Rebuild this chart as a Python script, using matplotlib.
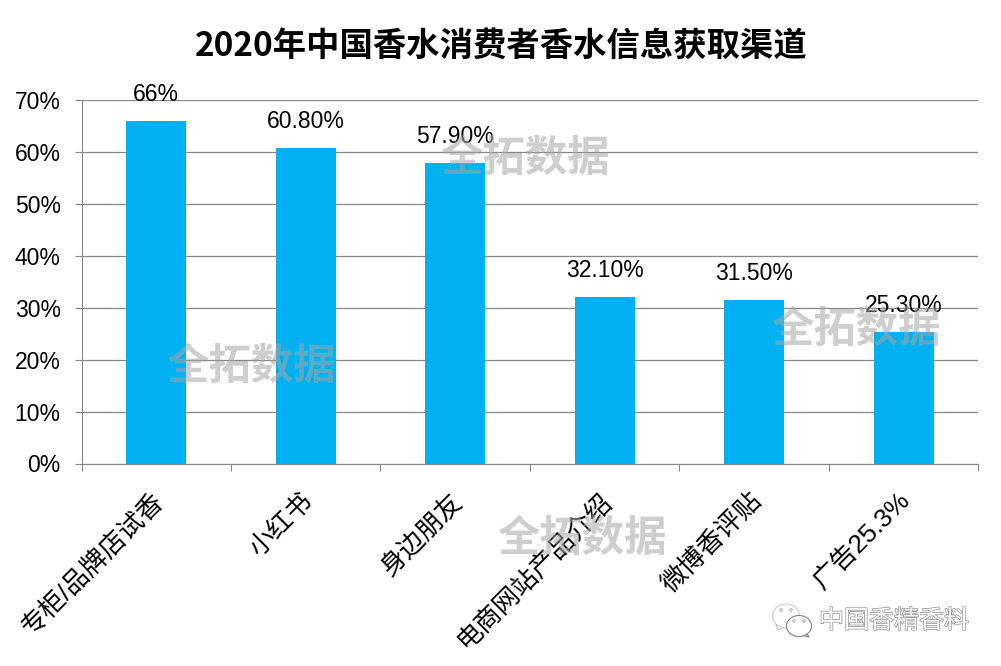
import matplotlib
matplotlib.use('Agg')
import matplotlib.pyplot as plt
import matplotlib.patheffects as pe
from matplotlib.patches import Ellipse, Polygon
import numpy as np

plt.rcParams['font.family'] = ['Liberation Sans', 'Noto Sans CJK SC', 'DejaVu Sans']

categories = ['专柜/品牌店试香', '小红书', '身边朋友', '电商网站产品介绍', '微博香评贴', '广告25.3%']
values = [66, 60.8, 57.9, 32.1, 31.5, 25.3]
labels = ['66%', '60.80%', '57.90%', '32.10%', '31.50%', '25.30%']
yticks = [0, 10, 20, 30, 40, 50, 60, 70]

fig = plt.figure(figsize=(10.01, 6.66), dpi=100)
ax = fig.add_axes([81.5 / 1001, 1 - 463.5 / 666, (978.5 - 81.5) / 1001, (463.5 - 100) / 666])

x = np.arange(len(categories))
ax.bar(x, values, width=0.398, color='#00b0f0', zorder=3)
ax.set_xlim(-0.5, 5.5)
ax.set_ylim(0, 70)
ax.set_yticks(yticks)
ax.set_yticklabels([str(t) + '%' for t in yticks], fontsize=16.5, color='black')
ax.grid(axis='y', color='#868686', linewidth=0.9, zorder=0)
ax.set_axisbelow(True)

# category ticks sit between the bars
ax.set_xticks(np.arange(-0.5, 6, 1))
ax.set_xticklabels([])
ax.tick_params(axis='x', length=5, color='#868686', direction='out')
ax.tick_params(axis='y', length=5, color='#868686', direction='out', pad=10)

for s in ['top', 'right']:
    ax.spines[s].set_visible(False)
ax.spines['left'].set_color('#868686')
ax.spines['bottom'].set_color('#868686')

for i, v in enumerate(values):
    ax.annotate(labels[i], (x[i], v), xytext=(0, 15), textcoords='offset pixels',
                ha='center', va='bottom', fontsize=16.5, color='black', zorder=5)
    ax.annotate(categories[i], (x[i], 0), xytext=(-5, -25), textcoords='offset pixels',
                ha='right', va='top', rotation=45, rotation_mode='anchor',
                fontsize=18.7, color='black', annotation_clip=False)

fig.text(501 / 1001, 1 - 46 / 666, '2020年中国香水消费者香水信息获取渠道', ha='center', va='center',
         fontsize=24, fontweight='bold', color='black',
         family=['Noto Sans CJK SC', 'DejaVu Sans'])

# watermarks
for wx, wy in [(251, 367), (525, 159), (856, 330), (582, 539)]:
    fig.text(wx / 1001, 1 - wy / 666, '全拓数据', ha='center', va='center', fontsize=30.5,
             fontweight='bold', color='#a6a6a6', alpha=0.55, zorder=10,
             family=['Noto Sans CJK SC', 'DejaVu Sans'])

fig.text(894 / 1001, 1 - 621 / 666, '中国香精香料', ha='center', va='center', fontsize=18,
         color='white', zorder=10, family=['Noto Sans CJK SC', 'DejaVu Sans'],
         path_effects=[pe.withStroke(linewidth=1.0, foreground='#8c8c8c')])

# wechat logo next to the account name, drawn in pixel coordinates
ov = fig.add_axes([0, 0, 1, 1], facecolor='none')
ov.set_xlim(0, 1001)
ov.set_ylim(666, 0)
ov.axis('off')
ov.add_patch(Polygon([(776, 624), (778, 630), (784, 627)], fc='white', ec='#b5b5b5', lw=0.7))
ov.add_patch(Ellipse((786, 616), 27, 24, fc='white', ec='#c4c4c4', lw=0.7))
ov.add_patch(Polygon([(805, 630), (809, 637), (798, 634)], fc='white', ec='#7f7f7f', lw=0.8))
ov.add_patch(Ellipse((799, 626), 25, 21, fc='white', ec='#7f7f7f', lw=0.8))
for ex, ey in [(781, 610), (791, 610), (794, 621), (804, 621)]:
    ov.add_patch(Ellipse((ex, ey), 2.5, 2.5, fc='white', ec='#8c8c8c', lw=0.5))

fig.savefig('out.png', dpi=100)
